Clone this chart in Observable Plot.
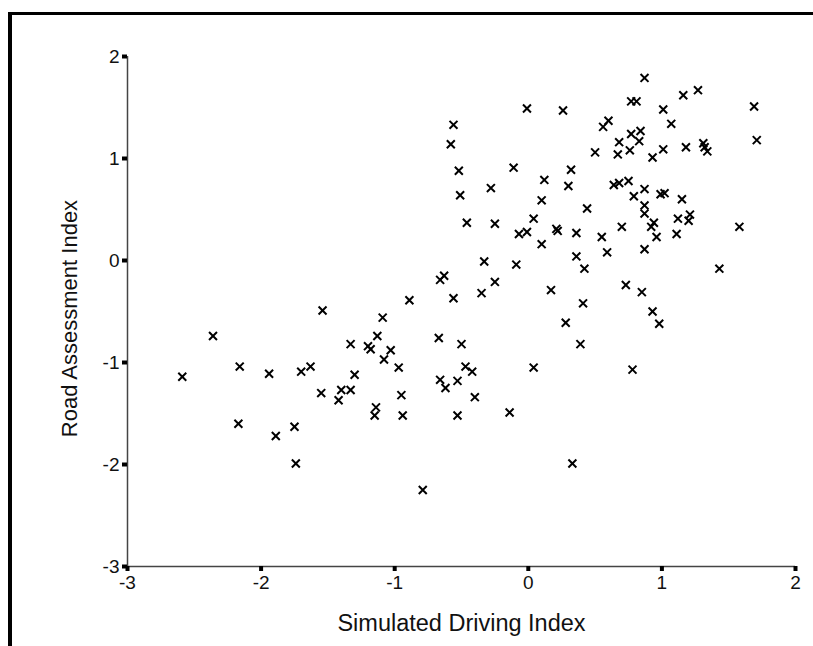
<!DOCTYPE html>
<html>
<head>
<meta charset="utf-8">
<script src="https://cdn.jsdelivr.net/npm/d3@7"></script>
<script src="https://cdn.jsdelivr.net/npm/@observablehq/plot@0.6"></script>
<style>
  html, body { margin: 0; padding: 0; background: white; }
  #wrap { position: relative; width: 813px; height: 646px; overflow: hidden; }
  #wrap svg { display: block; }
  #frame { position: absolute; left: 8px; top: 12px; right: -10px; bottom: -10px;
           border-left: 4px solid #000; border-top: 3px solid #000; pointer-events: none; }
</style>
</head>
<body>
<div id="wrap"><div id="frame"></div></div>
<script>
// Simulated Driving Index (x) for each participant
const simDriving = [
  -2.59, -2.36, -2.16, -2.17, -1.94, -1.89, -1.75, -1.74, -1.70, -1.63,
  -1.54, -1.55, -1.42, -1.40, -1.33, -1.33, -1.30, -0.66, -0.63, -0.25,
   0.17, -0.35, -0.56, -0.89, -1.09,  0.28, -1.13, -0.67, -0.50, -1.20,
  -1.18, -1.03, -1.08, -0.97, -0.47, -0.42,  0.04, -0.66, -0.62, -0.53,
  -0.95, -0.40, -1.14, -1.15, -0.94, -0.53, -0.14,  0.33, -0.79, -0.01,
   0.26, -0.56, -0.58, -0.52, -0.11,  0.32,  0.12,  0.30, -0.51, -0.28,
   0.10, -0.46, -0.25,  0.04, -0.07, -0.01,  0.21,  0.22,  0.36,  0.10,
   0.36, -0.33, -0.09,  0.87,  1.27,  1.16,  1.69,  0.77,  0.81,  1.01,
   1.07,  0.60,  0.56,  0.84,  0.77,  0.83,  0.68,  1.71,  1.31,  1.32,
   1.34,  0.50,  0.67,  0.76,  0.93,  1.01,  1.18,  0.64,  0.68,  0.75,
   0.87,  0.79,  0.99,  1.02,  1.15,  0.44,  0.87,  0.87,  0.94,  0.92,
   1.12,  1.21,  1.20,  0.70,  0.55,  0.96,  1.11,  1.58,  0.59,  0.87,
   0.42,  1.43,  0.73,  0.85,  0.41,  0.93,  0.98,  0.39,  0.78
];
// Road Assessment Index (y) for each participant
const roadAssessment = [
  -1.14, -0.74, -1.04, -1.60, -1.11, -1.72, -1.63, -1.99, -1.09, -1.04,
  -0.49, -1.30, -1.37, -1.27, -1.27, -0.82, -1.12, -0.19, -0.15, -0.21,
  -0.29, -0.32, -0.37, -0.39, -0.56, -0.61, -0.74, -0.76, -0.82, -0.84,
  -0.87, -0.88, -0.97, -1.05, -1.04, -1.09, -1.05, -1.17, -1.25, -1.18,
  -1.32, -1.34, -1.44, -1.52, -1.52, -1.52, -1.49, -1.99, -2.25,  1.49,
   1.47,  1.33,  1.14,  0.88,  0.91,  0.89,  0.79,  0.73,  0.64,  0.71,
   0.59,  0.37,  0.36,  0.41,  0.26,  0.28,  0.31,  0.29,  0.27,  0.16,
   0.04, -0.01, -0.04,  1.79,  1.67,  1.62,  1.51,  1.56,  1.56,  1.48,
   1.34,  1.37,  1.31,  1.27,  1.24,  1.17,  1.16,  1.18,  1.15,  1.11,
   1.07,  1.06,  1.04,  1.08,  1.01,  1.09,  1.11,  0.74,  0.76,  0.78,
   0.70,  0.63,  0.65,  0.66,  0.60,  0.51,  0.54,  0.46,  0.37,  0.33,
   0.41,  0.45,  0.39,  0.33,  0.23,  0.23,  0.26,  0.33,  0.08,  0.11,
  -0.08, -0.08, -0.24, -0.31, -0.42, -0.50, -0.62, -0.82, -1.07
];
const xTicks = [-3, -2, -1, 0, 1, 2];
const xTickLabels = ["-3", "-2", "-1", "0", "1", "2"];
const yTicks = [-3, -2, -1, 0, 1, 2];
const yTickLabels = ["-3", "-2", "-1", "0", "1", "2"];
const xTitle = "Simulated Driving Index";
const yTitle = "Road Assessment Index";

const points = simDriving.map((x, i) => ({x, y: roadAssessment[i]}));

const chart = Plot.plot({
  width: 813,
  height: 646,
  marginLeft: 127,
  marginRight: 18,
  marginTop: 56,
  marginBottom: 80,
  style: {fontFamily: "'Liberation Sans', Arial, sans-serif", background: "transparent", color: "#111"},
  x: {domain: [-3, 2]},
  y: {domain: [-3, 2]},
  marks: [
    Plot.ruleX([-3], {stroke: "#444", strokeWidth: 1.5}),
    Plot.ruleY([-3], {stroke: "#444", strokeWidth: 1.5}),
    Plot.axisX({ticks: xTicks, tickFormat: () => "", tickSize: 5, strokeWidth: 4, stroke: "#000", label: null}),
    Plot.axisY({ticks: yTicks, tickFormat: () => "", tickSize: 5, strokeWidth: 4, stroke: "#000", label: null}),
    Plot.text(xTicks, {x: d => d, frameAnchor: "bottom", lineAnchor: "top", dy: 9, text: (d, i) => xTickLabels[i], fontSize: 19, fill: "#111"}),
    Plot.text(yTicks, {y: d => d, frameAnchor: "left", textAnchor: "end", dx: -8, text: (d, i) => yTickLabels[i], fontSize: 19, fill: "#111"}),
    Plot.dot(points, {x: "x", y: "y", symbol: "times", r: 3.7, stroke: "#000", strokeWidth: 2}),
    Plot.text([xTitle], {frameAnchor: "bottom", dy: 64, fontSize: 23.5, fill: "#111"}),
    Plot.text([yTitle], {frameAnchor: "left", dx: -58, dy: 7, rotate: -90, textAnchor: "middle", fontSize: 22, fill: "#111"})
  ]
});
document.getElementById("wrap").prepend(chart);
</script>
</body>
</html>
